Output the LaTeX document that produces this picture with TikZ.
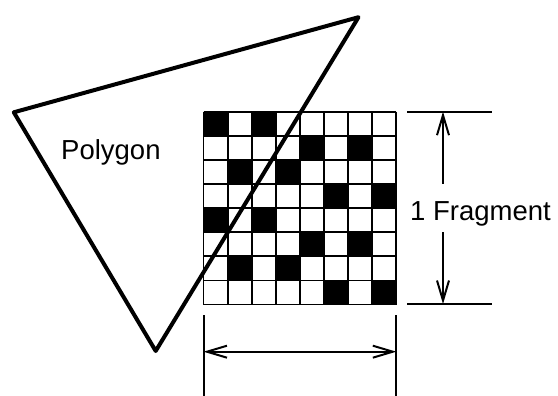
\documentclass[tikz,border=0pt]{standalone}
\usepackage{fontspec}
\setmainfont{Liberation Sans}
\usetikzlibrary{arrows.meta}
\begin{document}
\begin{tikzpicture}[x=1pt,y=-1pt,
  gridline/.style={line width=1.8pt},
  dimline/.style={line width=2pt},
  polyline/.style={line width=4pt, line join=round},
  barb/.tip={Straight Barb[length=20pt,width=12pt]},
  lbl/.style={font=\fontsize{27.5}{30}\selectfont, inner sep=0pt}]
\useasboundingbox (0,0) rectangle (558,396);
\def\gx{203.5}
\def\gy{111.7}
\def\cs{24.1}
% black cells
\foreach \r/\c in {0/0,0/2,1/4,1/6,2/1,2/3,3/5,3/7,4/0,4/2,5/4,5/6,6/1,6/3,7/5,7/7}
  \fill ({\gx+\c*\cs},{\gy+\r*\cs}) rectangle ++(\cs,\cs);
% grid lines
\foreach \i in {0,...,8} {
  \draw[gridline] ({\gx+\i*\cs},\gy) -- ++(0,{8*\cs});
  \draw[gridline] (\gx,{\gy+\i*\cs}) -- ++({8*\cs},0);
}
% polygon
\coordinate (pa) at (358.5,17.2);
\coordinate (pb) at (13.8,112.3);
\coordinate (pc) at (155.7,351);
\draw[polyline] (pa) -- (pb) -- (pc) -- cycle;
\node[lbl, anchor=base west] (poly) at (61,160) {Polygon};
% right dimension
\coordinate (rtl) at (407,111.7);
\coordinate (rtr) at (492,111.7);
\coordinate (rbl) at (407,304);
\coordinate (rbr) at (492,304);
\draw[dimline] (rtl) -- (rtr);
\draw[dimline] (rbl) -- (rbr);
\node[lbl, anchor=base west] (frag) at (410,220) {1 Fragment};
\coordinate (at) at (443,111.7);
\coordinate (ab) at (443,304);
\coordinate (am1) at (443,184);
\coordinate (am2) at (443,232);
\draw[dimline, -barb] (am1) -- (at);
\draw[dimline, -barb] (am2) -- (ab);
% bottom dimension
\coordinate (bl1) at (203.5,315);
\coordinate (bl2) at (203.5,396);
\coordinate (br1) at (396.3,315);
\coordinate (br2) at (396.3,396);
\draw[dimline] (bl1) -- (bl2);
\draw[dimline] (br1) -- (br2);
\coordinate (hl) at (203.5,351.7);
\coordinate (hr) at (396.3,351.7);
\draw[dimline, barb-barb] (hl) -- (hr);
\end{tikzpicture}
\end{document}
